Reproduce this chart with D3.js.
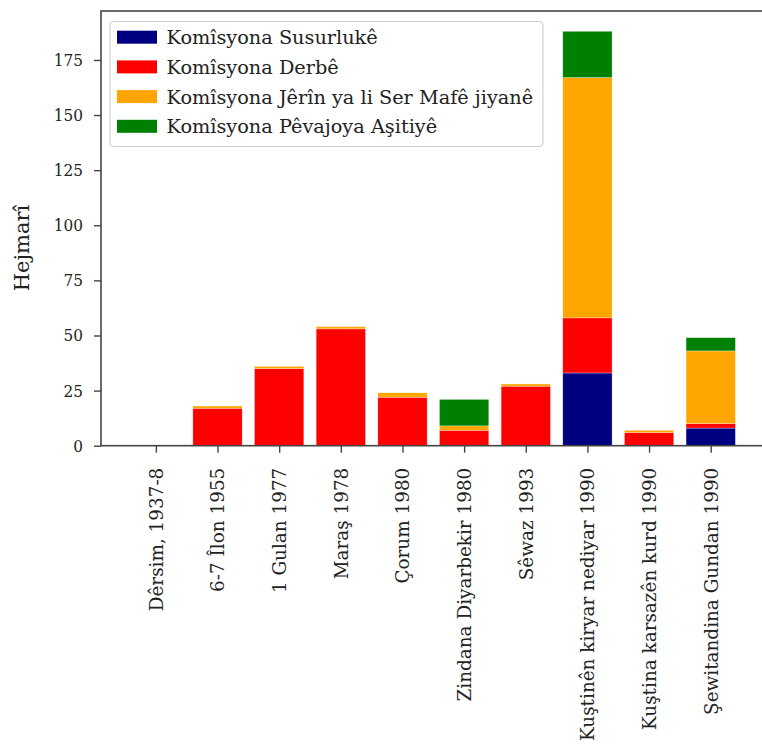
<!DOCTYPE html>
<html><head><meta charset="utf-8">
<script src="https://cdn.jsdelivr.net/npm/d3@7"></script>
<style>
body{margin:0;background:#fff;overflow:hidden}
text{font-family:"DejaVu Serif",serif;fill:#222}
</style>
</head><body><svg id="c" width="762" height="747"></svg>
<script>
const categories = ["Dêrsim, 1937-8","6-7 Îlon 1955","1 Gulan 1977","Maraş 1978","Çorum 1980","Zindana Diyarbekir 1980","Sêwaz 1993","Kuştinên kiryar nediyar 1990","Kuştina karsazên kurd 1990","Şewitandina Gundan 1990"];
const seriesNames = ["Komîsyona Susurlukê","Komîsyona Derbê","Komîsyona Jêrîn ya li Ser Mafê jiyanê","Komîsyona Pêvajoya Aşitiyê"];
const susurluk = [0,0,0,0,0,0,0,33,0,8];
const derbe    = [0,17,35,53,22,7,27,25,6,2];
const jerin    = [0,1,1,1,2,2,1,109,1,33];
const pevajoya = [0,0,0,0,0,12,0,21,0,6];
const colors = ["#000080","#ff0000","#ffa500","#008000"];
const yTicks = [0,25,50,75,100,125,150,175];
const yLabel = "Hejmarî";

const svg = d3.select("#c");
const L = 101, R = 765.6, T = 11, B = 445.7;
const x = d3.scaleLinear().domain([-0.89, 9.89]).range([L, R]);
const y = d3.scaleLinear().domain([0, 197.2]).range([B, T]);
const bw = x(0.8) - x(0);

const keys = ["s","d","j","p"];
const rows = categories.map((c,i)=>({i, s:susurluk[i], d:derbe[i], j:jerin[i], p:pevajoya[i]}));
const stack = d3.stack().keys(keys)(rows);

const g = svg.append("g");
stack.forEach((layer, k)=>{
  g.selectAll(null).data(layer).enter().append("rect")
    .attr("x", d => x(d.data.i) - bw/2)
    .attr("width", bw)
    .attr("y", d => y(d[1]))
    .attr("height", d => y(d[0]) - y(d[1]))
    .attr("fill", colors[k])
    .attr("stroke", "rgba(255,255,255,0.5)")
    .attr("stroke-width", 0.6);
});

// frame
svg.append("rect").attr("x", L).attr("y", T).attr("width", R-L).attr("height", B-T)
  .attr("fill","none").attr("stroke","#444").attr("stroke-width",1.6);

// y axis
const yAxis = d3.axisLeft(y).tickValues(yTicks).tickSize(7).tickPadding(11).tickFormat(d3.format("d"));
const ya = svg.append("g").attr("transform",`translate(${L},0)`).call(yAxis);
ya.select(".domain").remove();
ya.selectAll(".tick line").attr("stroke","#444").attr("stroke-width",1.4);
ya.selectAll(".tick text").style("font-family","'DejaVu Serif Condensed','DejaVu Serif',serif")
  .style("font-size","17px").attr("fill","#222");

// x axis
const xAxis = d3.axisBottom(x).tickValues(d3.range(categories.length)).tickSize(7).tickFormat(i=>categories[i]);
const xa = svg.append("g").attr("transform",`translate(0,${B})`).call(xAxis);
xa.select(".domain").remove();
xa.selectAll(".tick line").attr("stroke","#444").attr("stroke-width",1.4);
xa.selectAll(".tick text")
  .attr("transform","rotate(-90)")
  .attr("x", -22).attr("y", 0).attr("dy","0.35em")
  .attr("text-anchor","end")
  .style("font-size","18.4px").attr("fill","#222");

// y label
svg.append("text").attr("transform","translate(29,248) rotate(-90)")
  .attr("text-anchor","middle").style("font-size","21px").text(yLabel);

// legend
const lg = svg.append("g");
lg.append("rect").attr("x",110).attr("y",21.5).attr("width",433).attr("height",125).attr("rx",4)
  .attr("fill","rgba(255,255,255,0.8)").attr("stroke","#d0d0d0").attr("stroke-width",1.2);
seriesNames.forEach((n,k)=>{
  const yy = 30.7 + k*29.7;
  lg.append("rect").attr("x",117).attr("y",yy).attr("width",40).attr("height",13).attr("fill",colors[k]);
  lg.append("text").attr("x",166.5).attr("y",yy+13.5).style("font-size","19.3px").text(n);
});
</script></body></html>
